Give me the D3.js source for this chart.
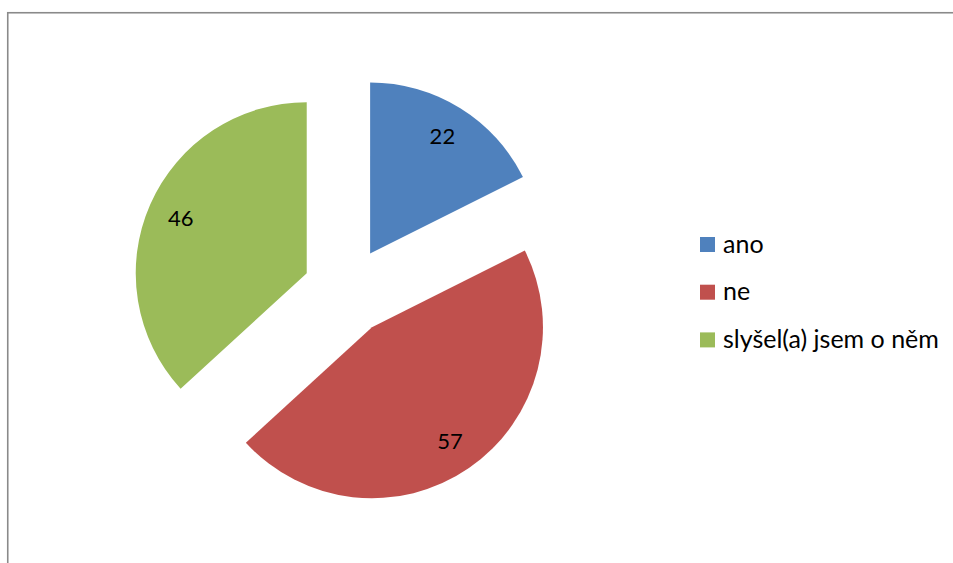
<!DOCTYPE html>
<html><head><meta charset="utf-8">
<script src="https://cdn.jsdelivr.net/npm/d3@7"></script>
<style>body{margin:0;background:#fff}svg{display:block}</style>
</head><body>
<svg id="c" width="953" height="563"></svg>
<script>
const categories = ["ano", "ne", "slyšel(a) jsem o něm"];
const values = [22, 57, 46];
const colors = ["#4F81BD", "#C0504D", "#9BBB59"];

const svg = d3.select("#c");
const font = "Lato, 'Open Sans', sans-serif";

svg.append("rect").attr("x", 7.75).attr("y", 12.75).attr("width", 1200).attr("height", 800)
  .attr("fill", "#fff").attr("stroke", "#8a8a8a").attr("stroke-width", 1.6);

const cx = 347, cy = 291, R = 171, explode = 44;
const data = categories.map((c, i) => ({cat: c, value: values[i], color: colors[i]}));
const pie = d3.pie().value(d => d.value).sort(null);
const arc = d3.arc().innerRadius(0).outerRadius(R);
const arcs = pie(data);

const g = svg.append("g").attr("transform", `translate(${cx},${cy})`);
const slices = g.selectAll("g.s").data(arcs).join("g").attr("class", "s")
  .attr("transform", d => {
    const a = (d.startAngle + d.endAngle) / 2;
    return `translate(${explode * Math.sin(a)},${-explode * Math.cos(a)})`;
  });
slices.append("path").attr("d", arc).attr("fill", d => d.data.color);
slices.append("text")
  .attr("x", d => 0.805 * R * Math.sin((d.startAngle + d.endAngle) / 2))
  .attr("y", d => -0.805 * R * Math.cos((d.startAngle + d.endAngle) / 2) + 8)
  .attr("text-anchor", "middle")
  .attr("font-family", font).attr("font-size", 22).attr("fill", "#000")
  .text(d => d.data.value);

const leg = svg.append("g").attr("transform", "translate(700,237)");
const rows = leg.selectAll("g").data(data).join("g")
  .attr("transform", (d, i) => `translate(0,${i * 47.7})`);
rows.append("rect").attr("width", 15).attr("height", 15).attr("fill", d => d.color);
rows.append("text").attr("x", 23).attr("y", 15.5)
  .attr("font-family", font).attr("font-size", 25).attr("fill", "#000").text(d => d.cat);
</script>
</body></html>
